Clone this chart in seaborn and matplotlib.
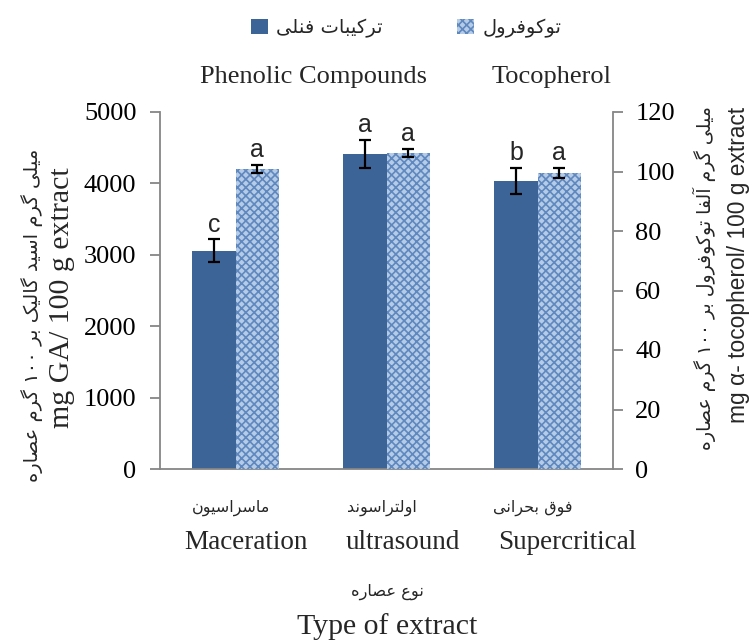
import re
import numpy as np
import pandas as pd
import matplotlib
matplotlib.use("Agg")
import matplotlib.pyplot as plt
import matplotlib.patches as mpatches
import seaborn as sns

# ---------------- data ----------------
categories_en = ["Maceration", "ultrasound", "Supercritical"]
categories_fa = ["ماسراسیون", "اولتراسوند", "فوق بحرانی"]
series_fa = ["ترکیبات فنلی", "توکوفرول"]
series_en = ["Phenolic Compounds", "Tocopherol"]
phenolic = [3060, 4410, 4030]
phenolic_err = [155, 200, 185]
phenolic_letters = ["c", "a", "b"]
tocopherol = [100.8, 106.2, 99.6]
tocopherol_err = [1.3, 1.3, 1.7]
tocopherol_letters = ["a", "a", "a"]
left_ticks = [0, 1000, 2000, 3000, 4000, 5000]
right_ticks = [0, 20, 40, 60, 80, 100, 120]
ylabel_left_fa = "میلی گرم اسید گالیک بر ۱۰۰ گرم عصاره"
ylabel_left_en = "mg GA/ 100 g extract"
ylabel_right_fa = "میلی گرم آلفا توکوفرول بر ۱۰۰ گرم عصاره"
ylabel_right_en = "mg α- tocopherol/ 100 g extract"
xlabel_fa = "نوع عصاره"
xlabel_en = "Type of extract"

# ------------- Persian shaping (visual order) -------------
FORMS = {
    '\u0627': ('\uFE8D', '\uFE8E'),
    '\u0622': ('\uFE81', '\uFE82'),
    '\u0628': ('\uFE8F', '\uFE90', '\uFE91', '\uFE92'),
    '\u062A': ('\uFE95', '\uFE96', '\uFE97', '\uFE98'),
    '\u062D': ('\uFEA1', '\uFEA2', '\uFEA3', '\uFEA4'),
    '\u062F': ('\uFEA9', '\uFEAA'),
    '\u0631': ('\uFEAD', '\uFEAE'),
    '\u0633': ('\uFEB1', '\uFEB2', '\uFEB3', '\uFEB4'),
    '\u0635': ('\uFEB9', '\uFEBA', '\uFEBB', '\uFEBC'),
    '\u0639': ('\uFEC9', '\uFECA', '\uFECB', '\uFECC'),
    '\u0641': ('\uFED1', '\uFED2', '\uFED3', '\uFED4'),
    '\u0642': ('\uFED5', '\uFED6', '\uFED7', '\uFED8'),
    '\u0644': ('\uFEDD', '\uFEDE', '\uFEDF', '\uFEE0'),
    '\u0645': ('\uFEE1', '\uFEE2', '\uFEE3', '\uFEE4'),
    '\u0646': ('\uFEE5', '\uFEE6', '\uFEE7', '\uFEE8'),
    '\u0647': ('\uFEE9', '\uFEEA', '\uFEEB', '\uFEEC'),
    '\u0648': ('\uFEED', '\uFEEE'),
    '\u06A9': ('\uFB8E', '\uFB8F', '\uFB90', '\uFB91'),
    '\u06AF': ('\uFB92', '\uFB93', '\uFB94', '\uFB95'),
    '\u06CC': ('\uFBFC', '\uFBFD', '\uFBFE', '\uFBFF'),
}


def fa(s):
    out = []
    for i, c in enumerate(s):
        if c not in FORMS:
            out.append(c)
            continue
        f = FORMS[c]
        prev = s[i - 1] if i > 0 else None
        nxt = s[i + 1] if i + 1 < len(s) else None
        jp = prev in FORMS and len(FORMS[prev]) == 4
        jn = len(f) == 4 and nxt in FORMS
        if jp and jn:
            out.append(f[3])
        elif jp:
            out.append(f[1])
        elif jn:
            out.append(f[2])
        else:
            out.append(f[0])
    vis = ''.join(out)[::-1]
    return re.sub('[\u06F0-\u06F9]+', lambda m: m.group(0)[::-1], vis)


# ---------------- style ----------------
sns.set_style("white")
plt.rcParams['font.family'] = ['Liberation Serif', 'DejaVu Sans']
SERIF = ['Liberation Serif', 'DejaVu Sans']
FAFONT = ['DejaVu Sans']
SANS = ['Liberation Sans', 'DejaVu Sans']
GRAY = '#868686'
DARK = '#3d6497'
LIGHT = '#b5cce8'
HATCH = '#5f88be'
plt.rcParams['hatch.linewidth'] = 1.2

fig = plt.figure(figsize=(7.55, 6.42), dpi=100)
ax = fig.add_axes([160 / 755, 1 - 469 / 642, (613 - 160) / 755, (469 - 112) / 642])
ax2 = ax.twinx()

df = pd.DataFrame({
    "cat": categories_en * 2,
    "series": [series_en[0]] * 3 + [series_en[1]] * 3,
    "value": phenolic + tocopherol,
})
pal = {series_en[0]: DARK, series_en[1]: LIGHT}
for a in (ax, ax2):
    sns.barplot(data=df, x="cat", y="value", hue="series", hue_order=series_en,
                palette=pal, order=categories_en, width=0.57, ax=a, legend=False,
                errorbar=None, saturation=1)

# left axis shows phenolic, right axis shows tocopherol
for p in ax.containers[1]:
    p.set_visible(False)
for p in ax2.containers[0]:
    p.set_visible(False)
for p in ax.containers[0]:
    p.set_edgecolor('none')
for p in ax2.containers[1]:
    p.set_facecolor(LIGHT)
    p.set_edgecolor(HATCH)
    p.set_linewidth(0)
    p.set_hatch('xxxx')

ax.set_ylim(0, 5000)
ax2.set_ylim(0, 120)
ax.set_xlim(-0.5, 2.5)
ax.set_yticks(left_ticks)
ax2.set_yticks(right_ticks)


def decorate(axis, container, vals, errs, letters):
    for p, v, e, l in zip(container, vals, errs, letters):
        xc = p.get_x() + p.get_width() / 2
        axis.errorbar(xc, v, yerr=e, color='black', capsize=4.5, capthick=1.6,
                      elinewidth=1.6, zorder=5)
        axis.annotate(l, (xc, v + e), xytext=(0, 2), textcoords='offset points',
                      ha='center', va='bottom', fontsize=18, family=SANS)


decorate(ax, ax.containers[0], phenolic, phenolic_err, phenolic_letters)
decorate(ax2, ax2.containers[1], tocopherol, tocopherol_err, tocopherol_letters)

# spines and ticks
for a in (ax, ax2):
    a.spines['top'].set_visible(False)
    for s in ('left', 'right', 'bottom'):
        a.spines[s].set_color(GRAY)
        a.spines[s].set_linewidth(1.3)
ax.spines['right'].set_visible(False)
ax2.spines['left'].set_visible(False)
ax2.spines['bottom'].set_visible(False)
ax.tick_params(axis='y', colors=GRAY, labelcolor='black', labelsize=19, length=7, width=1.3, pad=10)
ax2.tick_params(axis='y', colors=GRAY, labelcolor='black', labelsize=19, length=7, width=1.3, pad=9)
ax.set_xticks([-0.5, 0.5, 1.5, 2.5])
ax.set_xticklabels([])
ax.tick_params(axis='x', colors=GRAY, length=7, width=1.3)
ax.set_xlabel("")
ax.set_ylabel("")
ax2.set_ylabel("")
for lab in ax.get_yticklabels() + ax2.get_yticklabels():
    lab.set_family(SERIF)

# x category labels
trans = ax.get_xaxis_transform()
en_off = [0.07, 0.11, 0.2]
for i in range(len(categories_en)):
    ax.text(i - 0.03, -0.11, fa(categories_fa[i]), transform=trans, ha='center', va='center',
            fontsize=11.5, family=FAFONT)
    ax.text(i + en_off[i], -0.205, categories_en[i], transform=trans, ha='center', va='center',
            fontsize=19.5, family=SERIF)

fig.text(387 / 755, 1 - 592 / 642, fa(xlabel_fa), ha='center', va='center', fontsize=11.7, family=FAFONT)
fig.text(387 / 755, 1 - 627 / 642, xlabel_en, ha='center', va='center', fontsize=21.5, family=SERIF)

# y labels
fig.text(32 / 755, 1 - 315 / 642, fa(ylabel_left_fa), rotation=90, ha='center', va='center',
         fontsize=14, family=FAFONT)
fig.text(62 / 755, 1 - 298 / 642, ylabel_left_en, rotation=90, ha='center', va='center',
         fontsize=21.5, family=SERIF)
fig.text(704 / 755, 1 - 278 / 642, fa(ylabel_right_fa), rotation=90, ha='center', va='center',
         fontsize=13.6, family=FAFONT)
fig.text(739 / 755, 1 - 265 / 642, ylabel_right_en, rotation=90, ha='center', va='center',
         fontsize=16.4, family=SANS)

# series titles
fig.text(313 / 755, 1 - 77 / 642, series_en[0], ha='center', va='center', fontsize=19, family=SERIF)
fig.text(552 / 755, 1 - 77 / 642, series_en[1], ha='center', va='center', fontsize=19, family=SERIF)

# legend
handles = [mpatches.Patch(facecolor=DARK, edgecolor='none', label=fa(series_fa[0])),
           mpatches.Patch(facecolor=LIGHT, edgecolor=HATCH, linewidth=0, hatch='xxxx',
                          label=fa(series_fa[1]))]
fig.legend(handles=handles, loc='center', bbox_to_anchor=(406 / 755, 1 - 28 / 642), ncol=2,
           frameon=False, handlelength=0.87, handleheight=0.87, handletextpad=0.45,
           columnspacing=3.8, borderpad=0, prop={'family': FAFONT, 'size': 14})

fig.savefig("out.png", dpi=100)
